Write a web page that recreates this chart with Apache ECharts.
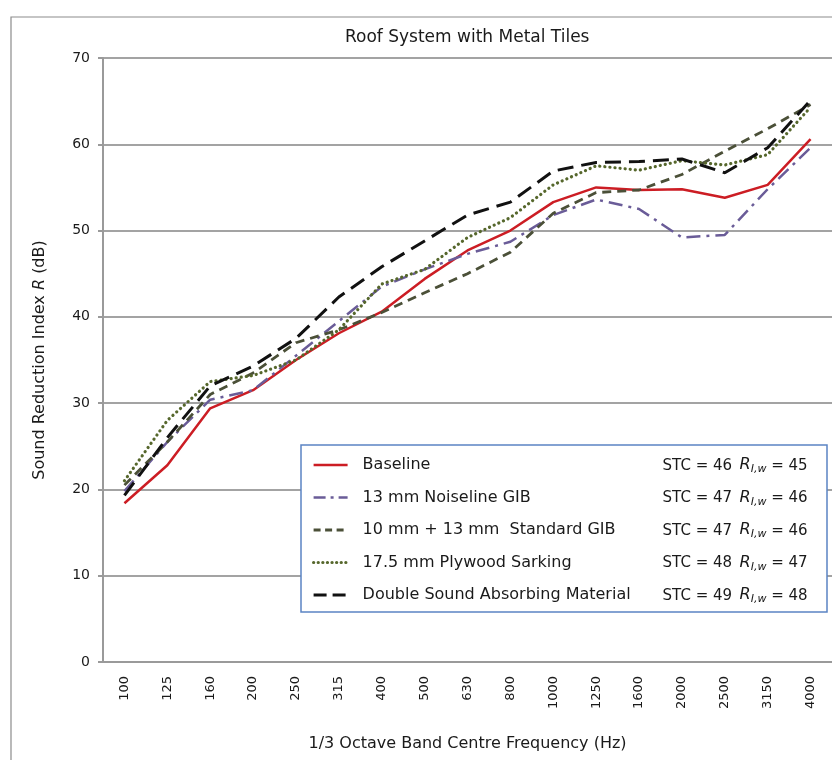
<!DOCTYPE html>
<html>
<head>
<meta charset="utf-8">
<script src="https://cdn.jsdelivr.net/npm/echarts@6/dist/echarts.min.js"></script>
<style>html,body{margin:0;padding:0;background:#fff}#c{width:832px;height:760px}</style>
</head>
<body>
<div id="c"></div>
<script>
const categories = ['100','125','160','200','250','315','400','500','630','800','1000','1250','1600','2000','2500','3150','4000'];
const baseline   = [18.4,22.8,29.4,31.5,35.0,38.1,40.6,44.4,47.7,50.0,53.3,55.0,54.7,54.8,53.8,55.3,60.6];
const noiseline  = [19.8,25.5,30.4,31.5,35.5,39.5,43.5,45.5,47.3,48.7,51.8,53.6,52.5,49.2,49.5,54.8,59.6];
const standard   = [20.5,25.5,31.0,33.5,37.0,38.5,40.5,42.8,45.0,47.5,52.0,54.4,54.7,56.5,59.2,61.8,64.6];
const plywood    = [21.0,28.0,32.5,33.2,35.0,38.5,43.8,45.5,49.2,51.5,55.3,57.5,57.0,58.1,57.6,58.8,64.3];
const doubleAbs  = [19.3,26.0,32.0,34.3,37.5,42.3,45.8,48.8,51.8,53.3,56.9,57.9,58.0,58.3,56.7,59.6,65.1];
const seriesNames = ['Baseline','13 mm Noiseline GIB','10 mm + 13 mm  Standard GIB','17.5 mm Plywood Sarking','Double Sound Absorbing Material'];
const stcValues = [46,47,47,48,49];
const rlwValues = [45,46,46,47,48];
const yTicks = [0,10,20,30,40,50,60,70];

const FONT = '"DejaVu Sans",Verdana,sans-serif';
const chart = echarts.init(document.getElementById('c'), null, {renderer:'canvas'});

const styles = [
  {color:'#cc1d24', width:2.5, type:'solid', cap:'butt'},
  {color:'#6a5c98', width:2.5, type:[14,6,3,6], cap:'butt'},
  {color:'#4b5038', width:2.8, type:[9,6], cap:'butt'},
  {color:'#56672c', width:3.2, type:[0.1,5], cap:'round'},
  {color:'#111111', width:3, type:[16,8], cap:'butt'}
];
const legendTypes = ['solid',[12,5,3,5],[7,4.5],[0.1,4.5],[13,6]];
const dataSets = [baseline, noiseline, standard, plywood, doubleAbs];

const series = dataSets.map((d,i)=>({
  name: seriesNames[i],
  type:'line',
  data:d,
  symbol:'none',
  smooth:false,
  z: 2,
  lineStyle:{color:styles[i].color, width:styles[i].width, type:styles[i].type, cap:styles[i].cap},
  itemStyle:{color:styles[i].color}
}));

chart.setOption({
  animation:false,
  backgroundColor:'#fff',
  title:{
    text:'Roof System with Metal Tiles',
    left:340, top:24,
    textStyle:{fontFamily:FONT, fontSize:17, fontWeight:'normal', color:'#1a1a1a'}
  },
  grid:{left:103, top:58, width:734, height:604, containLabel:false},
  xAxis:{
    type:'category',
    data:categories,
    boundaryGap:true,
    axisLine:{show:true, lineStyle:{color:'#9a9a9a', width:2}},
    axisTick:{show:false},
    axisLabel:{rotate:90, margin:14, fontFamily:FONT, fontSize:13, color:'#1a1a1a', interval:0},
    name:'1/3 Octave Band Centre Frequency (Hz)',
    nameLocation:'middle',
    nameGap:74,
    nameTextStyle:{fontFamily:FONT, fontSize:16, color:'#1a1a1a'}
  },
  yAxis:{
    type:'value',
    min:yTicks[0], max:yTicks[yTicks.length-1], interval:10,
    axisLine:{show:true, lineStyle:{color:'#9a9a9a', width:2}},
    axisTick:{show:true, inside:false, length:5, lineStyle:{color:'#9a9a9a', width:2}},
    splitLine:{show:true, lineStyle:{color:'#a3a3a3', width:2}},
    axisLabel:{fontFamily:FONT, fontSize:14, color:'#1a1a1a', margin:13},
    name:'{a|Sound Reduction Index }{b|R}{a| (dB)}',
    nameLocation:'middle',
    nameGap:55,
    nameRotate:90,
    nameTextStyle:{
      rich:{
        a:{fontFamily:FONT, fontSize:16, color:'#1a1a1a'},
        b:{fontFamily:FONT, fontSize:16, fontStyle:'italic', color:'#1a1a1a'}
      }
    }
  },
  legend:{
    show:true,
    z:6,
    orient:'vertical',
    left:302, top:446,
    padding:[9,10,8,10],
    backgroundColor:'rgba(0,0,0,0)',
    borderWidth:0,
    itemWidth:34,
    itemHeight:14,
    itemGap:12.5,
    itemStyle:{opacity:0},
    data:seriesNames.map((n,i)=>({
      name:n,
      lineStyle:{color:styles[i].color, width:styles[i].width, type:legendTypes[i], cap:styles[i].cap},
      itemStyle:{opacity:0}
    })),
    formatter:function(name){
      const i = seriesNames.indexOf(name);
      return '{n|'+name+'}{s|STC = '+stcValues[i]+'}{r|R}{sub|I,w}{e| = '+rlwValues[i]+'}';
    },
    textStyle:{
      fontFamily:FONT, fontSize:16, color:'#1a1a1a',
      rich:{
        n:{fontFamily:FONT, fontSize:16, color:'#1a1a1a', width:300, padding:[0,0,0,10], lineHeight:22},
        s:{fontFamily:FONT, fontSize:15, color:'#1a1a1a', width:77, lineHeight:22, padding:[2,0,0,0]},
        r:{fontFamily:FONT, fontSize:16, fontStyle:'italic', color:'#1a1a1a', lineHeight:22},
        sub:{fontFamily:FONT, fontSize:11, fontStyle:'italic', color:'#1a1a1a', lineHeight:22, padding:[9,0,0,0]},
        e:{fontFamily:FONT, fontSize:15, color:'#1a1a1a', lineHeight:22, padding:[2,0,0,0]}
      }
    }
  },
  graphic:{
    elements:[
      {type:'rect', silent:true, z:1, shape:{x:11, y:17, width:900, height:800}, style:{fill:'none', stroke:'#8c8c8c', lineWidth:1.2}},
      {type:'rect', silent:true, z:4, shape:{x:301, y:445, width:526, height:167}, style:{fill:'#ffffff', stroke:'#5b84c4', lineWidth:1.5}}
    ]
  },
  series:series
});
</script>
</body>
</html>
